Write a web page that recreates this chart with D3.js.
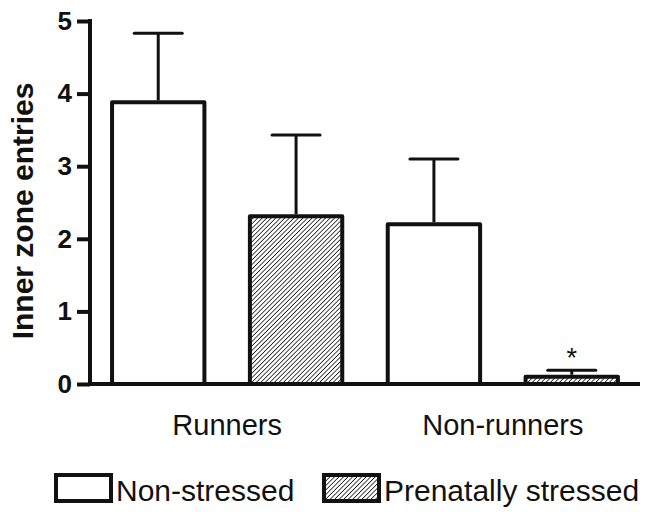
<!DOCTYPE html>
<html>
<head>
<meta charset="utf-8">
<script src="https://cdn.jsdelivr.net/npm/d3@7"></script>
<style>
  html, body { margin: 0; padding: 0; background: #fff; }
  svg { display: block; }
  text { font-family: "Liberation Sans", Arial, Helvetica, sans-serif; fill: #111; }
</style>
</head>
<body>
<svg id="chart" width="652" height="512"></svg>
<script>
// ---- data ----
const groups = ["Runners", "Non-runners"];
const seriesNames = ["Non-stressed", "Prenatally stressed"];
const means = [[3.88, 2.31], [2.20, 0.10]];   // [group][series]
const sems  = [[0.95, 1.12], [0.90, 0.09]];
const significance = [["", ""], ["", "*"]];
const yTicks = [0, 1, 2, 3, 4, 5];

const svg = d3.select("#chart");
const ink = "#111";

// pattern for hatched bars
const defs = svg.append("defs");
const pat = defs.append("pattern")
  .attr("id", "hatch").attr("patternUnits", "userSpaceOnUse")
  .attr("width", 3.2).attr("height", 3.2)
  .attr("patternTransform", "rotate(45)");
pat.append("rect").attr("width", 3.2).attr("height", 3.2).attr("fill", "#fff");
pat.append("line").attr("x1", 0).attr("y1", 0).attr("x2", 0).attr("y2", 3.2)
  .attr("stroke", "#1a1a1a").attr("stroke-width", 1.6);

const fills = ["#fff", "url(#hatch)"];

// scales
const x0 = 90, x1 = 640, yBase = 384, yTop = 21;
const flat = [];
groups.forEach((g, gi) => seriesNames.forEach((s, si) => flat.push({
  key: g + "|" + s, group: g, gi, si, mean: means[gi][si], sem: sems[gi][si], sig: significance[gi][si]
})));
const x = d3.scaleBand().domain(flat.map(d => d.key)).range([x0, x1])
  .paddingInner(0.33).paddingOuter(0.16);
const y = d3.scaleLinear().domain([0, 5]).range([yBase, yTop]);

// bars
const bars = svg.append("g");
bars.selectAll("rect").data(flat).join("rect")
  .attr("x", d => x(d.key)).attr("width", x.bandwidth())
  .attr("y", d => y(d.mean)).attr("height", d => y(0) - y(d.mean))
  .attr("fill", d => fills[d.si]).attr("stroke", ink).attr("stroke-width", 4)
  .attr("stroke-linejoin", "round");

// error bars
const capW = 48;
const eb = svg.append("g").attr("stroke", ink).attr("stroke-width", 3);
eb.selectAll("line.stem").data(flat).join("line").attr("class", "stem")
  .attr("x1", d => x(d.key) + x.bandwidth() / 2).attr("x2", d => x(d.key) + x.bandwidth() / 2)
  .attr("y1", d => y(d.mean) - 2).attr("y2", d => y(d.mean + d.sem));
eb.selectAll("line.cap").data(flat).join("line").attr("class", "cap")
  .attr("x1", d => x(d.key) + x.bandwidth() / 2 - capW / 2)
  .attr("x2", d => x(d.key) + x.bandwidth() / 2 + capW / 2)
  .attr("y1", d => y(d.mean + d.sem)).attr("y2", d => y(d.mean + d.sem))
  .attr("stroke-linecap", "round");

// significance
svg.append("g").selectAll("text").data(flat.filter(d => d.sig)).join("text")
  .attr("x", d => x(d.key) + x.bandwidth() / 2)
  .attr("y", d => y(d.mean + d.sem) - 3)
  .attr("text-anchor", "middle").attr("font-size", 27).text(d => d.sig);

// y axis
const yAxis = svg.append("g").attr("transform", `translate(${x0},0)`)
  .call(d3.axisLeft(y).tickValues(yTicks).tickFormat(d3.format("d")).tickSize(13).tickPadding(5));
yAxis.select(".domain").attr("stroke", ink).attr("stroke-width", 4)
  .attr("d", `M0,${yTop - 2}V${yBase}`);
yAxis.selectAll(".tick line").attr("stroke", ink).attr("stroke-width", 4);
yAxis.selectAll(".tick text").attr("font-size", 26).attr("font-weight", "bold")
  .attr("font-family", "Liberation Sans, Arial, sans-serif").attr("fill", ink);

// x baseline
svg.append("line").attr("x1", x0).attr("x2", x1).attr("y1", yBase).attr("y2", yBase)
  .attr("stroke", ink).attr("stroke-width", 4);

// group labels
svg.append("g").selectAll("text").data(groups).join("text")
  .attr("x", (g, gi) => {
    const a = x(g + "|" + seriesNames[0]);
    const b = x(g + "|" + seriesNames[seriesNames.length - 1]) + x.bandwidth();
    return (a + b) / 2;
  })
  .attr("y", 435).attr("text-anchor", "middle").attr("font-size", 29).text(d => d);

// y label
svg.append("text").attr("transform", "translate(33,211) rotate(-90)")
  .attr("text-anchor", "middle").attr("font-size", 30).attr("font-weight", "bold")
  .text("Inner zone entries");

// legend
const legendX = [54, 322];
const lg = svg.append("g").selectAll("g").data(seriesNames).join("g")
  .attr("transform", (d, i) => `translate(${legendX[i]},0)`);
lg.append("rect").attr("x", 2).attr("y", 475).attr("width", 55).attr("height", 26)
  .attr("fill", (d, i) => fills[i]).attr("stroke", ink).attr("stroke-width", 4);
lg.append("text").attr("x", 62).attr("y", 501).attr("font-size", 30).text(d => d);
</script>
</body>
</html>
